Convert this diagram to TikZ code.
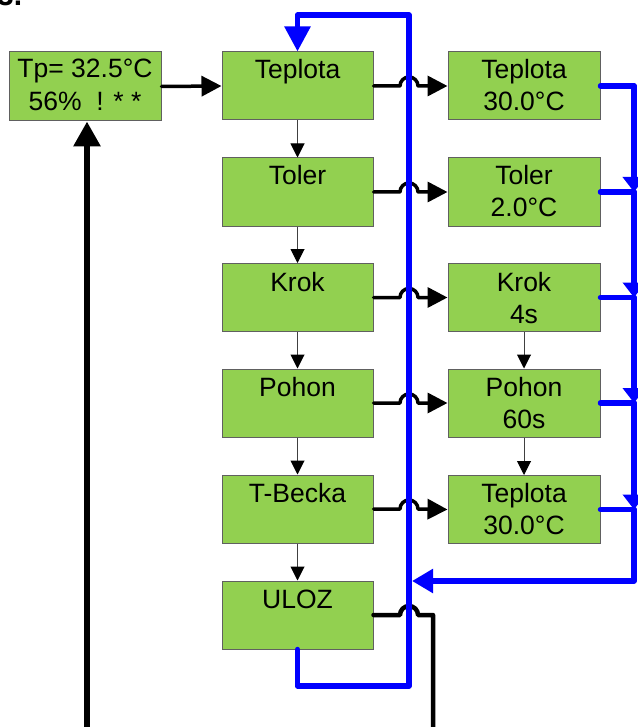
\documentclass[tikz,border=0pt]{standalone}
\usepackage{fontspec}
\setmainfont{Liberation Sans}
\usetikzlibrary{arrows.meta}
\definecolor{boxgreen}{HTML}{92D050}
\definecolor{boxedge}{HTML}{606060}
\definecolor{thinline}{HTML}{404040}
\begin{document}
\begin{tikzpicture}[x=1pt,y=-1pt,
  box/.style={draw=boxedge, line width=1pt, fill=boxgreen, minimum width=151pt, minimum height=68pt, inner sep=0pt},
  txt/.style={anchor=base, inner sep=0pt, font=\fontsize{26.5}{32}\selectfont},
  conn/.style={line width=3.5pt, line cap=round, line join=round, -{Triangle[length=20pt,width=20pt]}},
  plainconn/.style={line width=4.5pt, line cap=round, line join=round},
  thinarrow/.style={draw=thinline, line width=1pt, -{Triangle[length=14pt,width=14pt,fill=black,color=black]}},
  bl/.style={draw=blue, line width=5.5pt, line cap=round, line join=round},
  busarrow/.style={bl, -{Triangle[length=15pt,width=22pt]}},
]
\useasboundingbox (0,0) rectangle (637,727);

% partially visible heading
\node[anchor=base west, inner sep=0pt, font=\bfseries\fontsize{30}{30}\selectfont] (sec) at (-3,6) {3.};

% status box
\node[box, minimum width=152pt, minimum height=69pt] (st) at (85,86.5) {};
\node[txt] (st1) at (85,78) {Tp= 32.5°C};
\node[txt] (st2) at (85,111) {56\%\ \ ! * *};

% left column
\node[box] (l1) at (297.5,86) {};
\node[box] (l2) at (297.5,192) {};
\node[box] (l3) at (297.5,297.5) {};
\node[box] (l4) at (297.5,403) {};
\node[box] (l5) at (297.5,509) {};
\node[box] (l6) at (297.5,615) {};
\node[txt] (lt1) at (297.5,79) {Teplota};
\node[txt] (lt2) at (297.5,185) {Toler};
\node[txt] (lt3) at (297.5,291) {Krok};
\node[txt] (lt4) at (297.5,396) {Pohon};
\node[txt] (lt5) at (297.5,502) {T-Becka};
\node[txt] (lt6) at (297.5,608) {ULOZ};

% right column
\node[box, minimum width=152pt] (r1) at (524,86) {};
\node[box, minimum width=152pt] (r2) at (524,192) {};
\node[box, minimum width=152pt] (r3) at (524,297.5) {};
\node[box, minimum width=152pt] (r4) at (524,403) {};
\node[box, minimum width=152pt] (r5) at (524,509.5) {};
\node[txt] (rt1a) at (524,79) {Teplota};
\node[txt] (rt1b) at (524,111) {30.0°C};
\node[txt] (rt2a) at (524,185) {Toler};
\node[txt] (rt2b) at (524,217) {2.0°C};
\node[txt] (rt3a) at (524,291) {Krok};
\node[txt] (rt3b) at (524,323) {4s};
\node[txt] (rt4a) at (524,396) {Pohon};
\node[txt] (rt4b) at (524,428) {60s};
\node[txt] (rt5a) at (524,502.5) {Teplota};
\node[txt] (rt5b) at (524,534.5) {30.0°C};

% thin vertical arrows
\draw[thinarrow] (l1.south) -- (l2.north);
\draw[thinarrow] (l2.south) -- (l3.north);
\draw[thinarrow] (l3.south) -- (l4.north);
\draw[thinarrow] (l4.south) -- (l5.north);
\draw[thinarrow] (l5.south) -- (l6.north);
\draw[thinarrow] (r3.south) -- (r4.north);
\draw[thinarrow] (r4.south) -- (r5.north);

% black connectors
\draw[conn] (st.east) -- (l1.west);
\draw[conn] (l1.east) -- (400,86) arc[start angle=180,end angle=360,radius=9] -- (r1.west);
\draw[conn] (l2.east) -- (400,192) arc[start angle=180,end angle=360,radius=9] -- (r2.west);
\draw[conn] (l3.east) -- (400,297.5) arc[start angle=180,end angle=360,radius=9] -- (r3.west);
\draw[conn] (l4.east) -- (400,403) arc[start angle=180,end angle=360,radius=9] -- (r4.west);
\draw[conn] (l5.east) -- (400,509) arc[start angle=180,end angle=360,radius=9] -- (r5.west);
\coordinate (outb) at (433,740);
\draw[plainconn] (l6.east) -- (400,615) arc[start angle=180,end angle=360,radius=9] -- (433,615) -- (outb);
\coordinate (inb) at (87,740);
\draw[line width=6pt, -{Triangle[length=25pt,width=26pt]}] (inb) -- (inb |- st.south);

% blue loop
\coordinate (b1) at (297.5,686);
\coordinate (b2) at (409,686);
\coordinate (b3) at (409,15);
\coordinate (b4) at (297.5,15);
\draw[bl, -{Triangle[length=25pt,width=25pt]}] (l6.south) -- (b1) -- (b2) -- (b3) -- (b4) -- (l1.north);

% blue bus on the right
\coordinate (j1) at (634,86);
\coordinate (j2) at (634,192);
\coordinate (j3) at (634,297.5);
\coordinate (j4) at (634,403);
\coordinate (j5) at (634,509.5);
\coordinate (j6) at (634,581);
\coordinate (m1) at (412,581);
\draw[bl] (r1.east) -- (j1);
\draw[bl] (r2.east) -- (j2);
\draw[bl] (r3.east) -- (j3);
\draw[bl] (r4.east) -- (j4);
\draw[bl] (r5.east) -- (j5);
\draw[busarrow] (j1) -- (j2);
\draw[busarrow] (j2) -- (j3);
\draw[busarrow] (j3) -- (j4);
\draw[busarrow] (j4) -- (j5);
\draw[bl, -{Triangle[length=21pt,width=23pt]}] (j5) -- (j6) -- (m1);
\end{tikzpicture}
\end{document}
